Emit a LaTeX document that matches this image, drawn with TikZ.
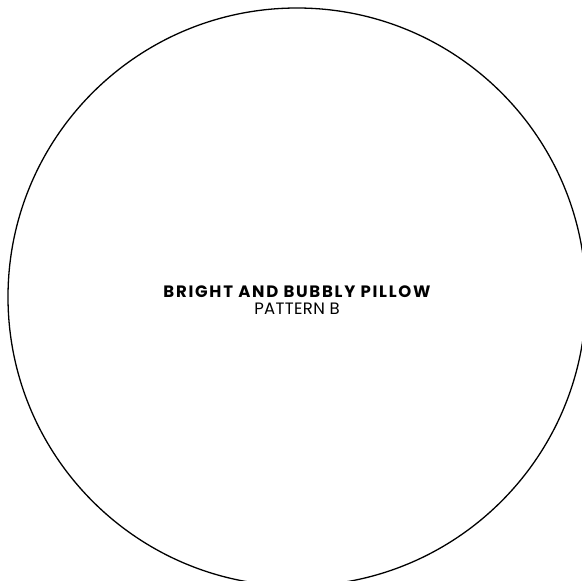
\documentclass[tikz,border=0pt]{standalone}
\usepackage{fontspec}
\setmainfont{Poppins}
\usepackage{tikz}
\usetikzlibrary{positioning}

\begin{document}
\begin{tikzpicture}[x=1pt, y=-1pt, every node/.style={font=\fontsize{16.5}{18}\selectfont, inner sep=0pt}]
  % Frame of the page
  \useasboundingbox (0,0) rectangle (582,581);
  \clip (0,0) rectangle (582,581);
  % Pillow outline
  \draw[line width=1.3pt] (297,297) circle (289);
  % Labels
  \node[font=\fontsize{16.5}{18}\selectfont\bfseries\addfontfeatures{LetterSpace=10.5}] (title) at (297,292) {BRIGHT AND BUBBLY PILLOW};
  \node[font=\fontsize{16.5}{18}\selectfont\addfontfeatures{LetterSpace=2}, below=5pt of title] (pattern) {PATTERN B};
\end{tikzpicture}
\end{document}
